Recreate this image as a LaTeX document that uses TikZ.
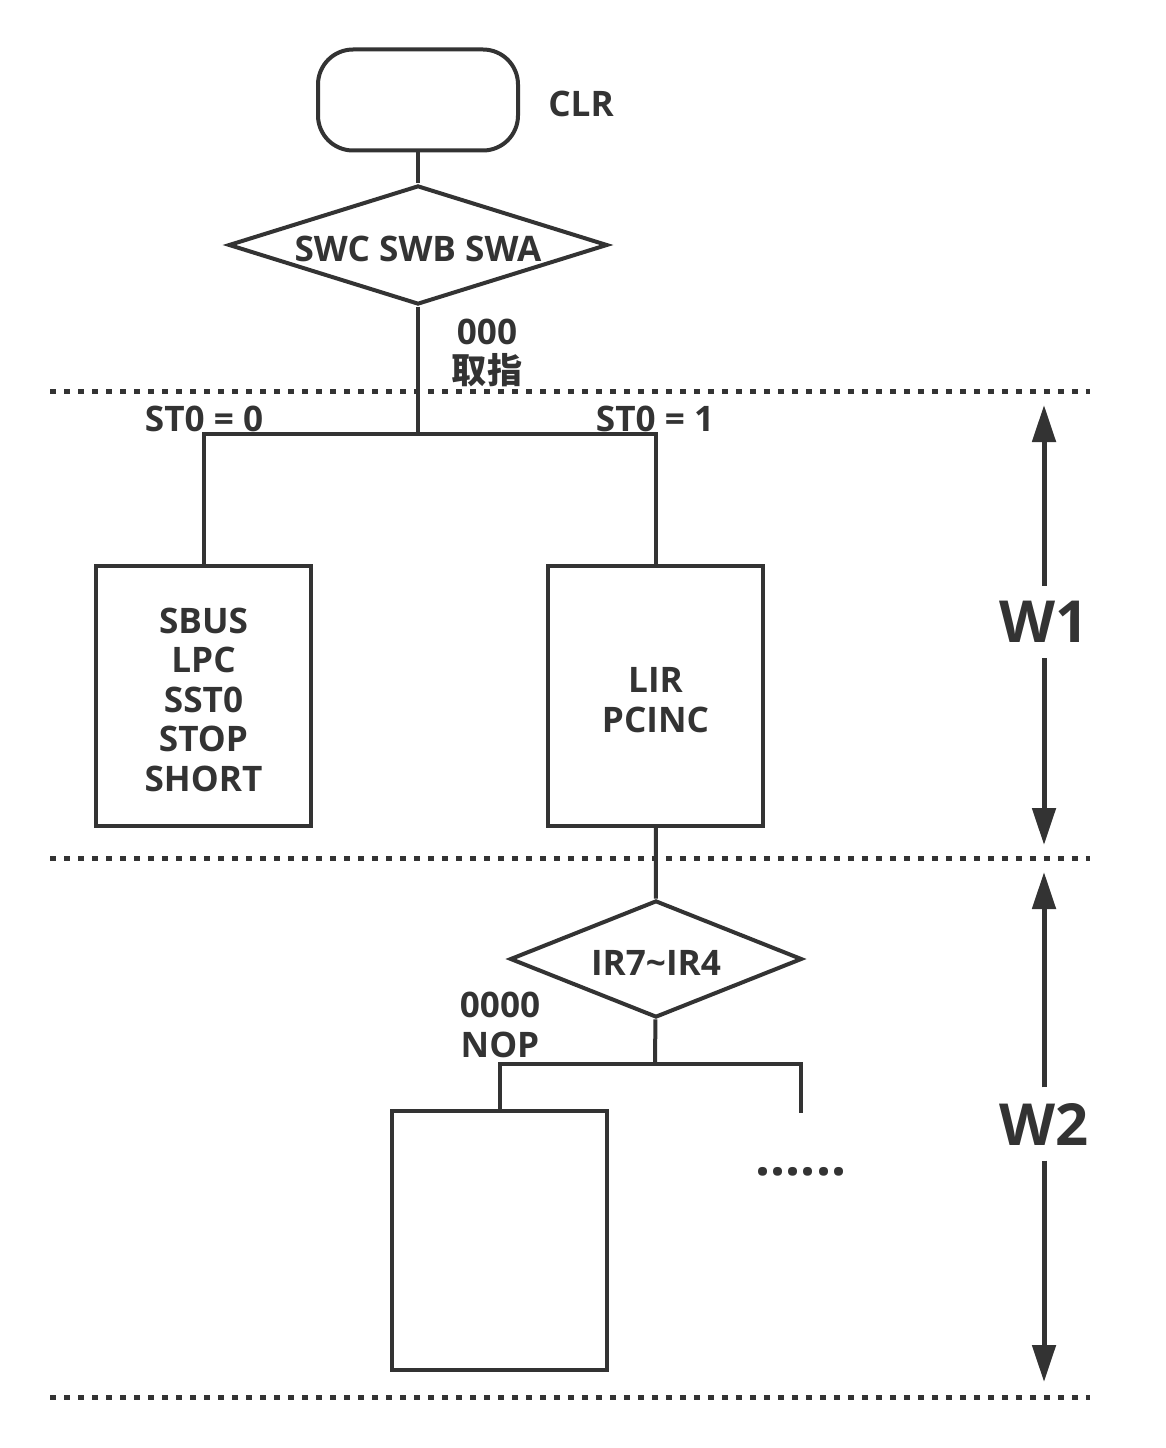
\documentclass[tikz,border=0pt]{standalone}
\usepackage{fontspec}
\setmainfont{Open Sans}
\newfontfamily\cjk{Noto Sans CJK SC}
\usetikzlibrary{arrows.meta,positioning,shapes.geometric}
\definecolor{ink}{RGB}{51,51,51}
\newcommand{\toppad}{\rule{0pt}{3.3mm}}

\begin{document}
\begin{tikzpicture}[x=0.1mm, y=-0.1mm,
  every node/.style={text=ink, font=\bfseries\fontsize{10}{11.2}\selectfont},
  line/.style={draw=ink, line width=0.4mm},
  term/.style={line, rounded corners=3.5mm, minimum width=20mm, minimum height=10.1mm},
  decision/.style={line, diamond, inner sep=0pt, aspect=3, execute at begin node=\toppad},
  proc/.style={line, minimum width=21.5mm, minimum height=26mm, align=center, inner sep=0pt},
  sep/.style={draw=ink, line width=0.5mm, dash pattern=on 0.6mm off 0.8mm},
  span/.style={draw=ink, line width=0.5mm, -{Triangle[length=3.7mm,width=2.3mm]}},
  lbl/.style={align=center, inner sep=0pt},
  big/.style={lbl, font=\bfseries\fontsize{16.5}{16.5}\selectfont, inner ysep=1.5mm}
]
\useasboundingbox (0,0) rectangle (1166,1448);

\node[term] (clr) at (418,100) {};
\node[lbl] (clrlbl) at (581,104) {CLR};
\node[decision, minimum width=37.9mm, minimum height=11.9mm] (sw) at (418,245) {SWC SWB SWA};
\node[lbl] (fetch) at (487,353) {000\\{\cjk 取指}};
\coordinate (fork1) at (418,434);
\draw[line] (clr) -- (sw);
\draw[line] (sw) -- (fork1);

\node[lbl] (st0) at (204,419) {ST0 = 0};
\node[lbl] (st1) at (655,419) {ST0 = 1};
\node[proc] (idle) at (203.5,696) {\toppad SBUS\\LPC\\SST0\\STOP\\SHORT};
\node[proc] (fetchbox) at (655.5,696) {\toppad LIR\\PCINC};
\draw[line] (fork1) -| (idle);
\draw[line] (fork1) -| (fetchbox);

\node[decision, minimum width=29.2mm, minimum height=11.7mm] (ir) at (656,959) {IR7\textasciitilde IR4};
\draw[line] (fetchbox) -- (ir);
\coordinate (fork2) at (655,1064);
\coordinate (more) at (801,1113);
\node[proc, minimum height=25.9mm] (nop) at (499.5,1240.5) {};
\node[lbl] (noplbl) at (500,1025) {0000\\NOP};
\draw[line] (ir) -- (fork2);
\draw[line] (fork2) -| (nop);
\draw[line] (fork2) -| (more);
\node[lbl, font=\bfseries\fontsize{15}{15}\selectfont] (dots) at (801,1172) {......};

\draw[sep] (50,391) -- (1090,391);
\draw[sep] (50,858) -- (1090,858);
\draw[sep] (50,1397) -- (1090,1397);

\node[big] (w1) at (1044,622) {W1};
\coordinate (w1top) at (1044,405);
\coordinate (w1bot) at (1044,845);
\draw[span] (w1) -- (w1top);
\draw[span] (w1) -- (w1bot);

\node[big] (w2) at (1044,1124) {W2};
\coordinate (w2top) at (1044,872);
\coordinate (w2bot) at (1044,1382);
\draw[span] (w2) -- (w2top);
\draw[span] (w2) -- (w2bot);
\end{tikzpicture}
\end{document}
